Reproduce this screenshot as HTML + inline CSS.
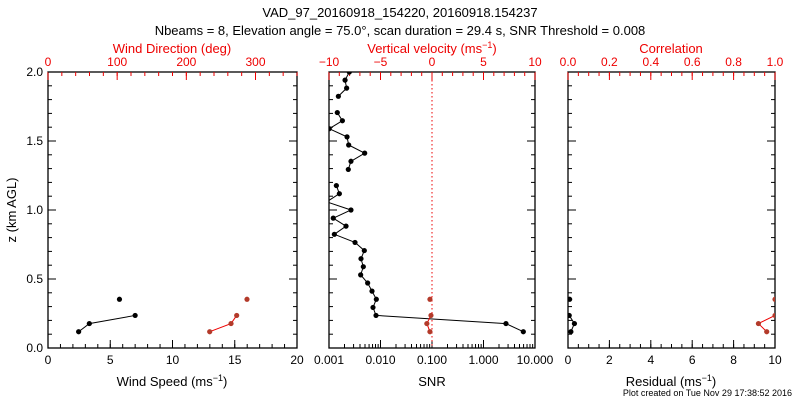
<!DOCTYPE html>
<html><head><meta charset="utf-8"><style>
body{margin:0;background:#fff;}
svg{display:block;font-family:"Liberation Sans",sans-serif;}
</style></head><body>
<svg id="chart" width="800" height="400" viewBox="0 0 800 400" xmlns="http://www.w3.org/2000/svg">
<defs>
<clipPath id="c1"><rect x="48" y="72" width="249" height="276"/></clipPath>
<clipPath id="c2"><rect x="329" y="72" width="206" height="276"/></clipPath>
<clipPath id="c3"><rect x="568" y="72" width="207" height="276"/></clipPath>
</defs>
<text x="400" y="17" font-size="13" text-anchor="middle">VAD_97_20160918_154220, 20160918.154237</text>
<text x="400" y="35" font-size="13" text-anchor="middle">Nbeams = 8, Elevation angle = 75.0°, scan duration = 29.4 s, SNR Threshold = 0.008</text>
<text x="792" y="396" font-size="9" text-anchor="end">Plot created on Tue Nov 29 17:38:52 2016</text>
<g id="g"></g>
</svg>
<script>
// heights (km) for each range gate
const heights=[0.118,0.177,0.236,0.294,0.353,0.412,0.471,0.530,0.589,0.647,0.706,0.765,0.824,0.883,0.941,1.000,1.059,1.118,1.177,1.236,1.294,1.353,1.412,1.471,1.530,1.589,1.647,1.706,1.765,1.824,1.883,1.941,2.000];
// SNR (middle panel, black)
const snr=[5.93,2.73,0.00818,0.00715,0.0083,0.00684,0.00563,0.00412,0.00464,0.00418,0.00485,0.0032,0.00127,0.00214,0.00121,0.00267,0.0009,0.00159,0.00139,null,0.00237,0.00267,0.00493,0.00241,0.00224,0.00101,0.00182,0.00145,null,0.00152,0.0022,0.00205,0.00248];
// vertical velocity (middle panel, red)
const wvel=[-0.2,-0.5,-0.1,null,-0.2];
// wind speed / direction (left panel)
const wspd=[2.46,3.32,7.0,null,5.74];
const wdir=[233.8,264.6,272.8,null,287.7];
// residual / correlation (right panel)
const resid=[0.14,0.31,0.06,null,0.08];
const corr=[0.96,0.92,1.0,null,1.0];

const NS="http://www.w3.org/2000/svg";
const g=document.getElementById('g');
const Y0=348,Y1=72;
const yS=z=>Y0-(z/2)*(Y0-Y1);
function el(t,a,p){const e=document.createElementNS(NS,t);for(const k in a)e.setAttribute(k,a[k]);(p||g).appendChild(e);return e;}
const P=[{x0:48,x1:297},{x0:329,x1:535},{x0:568,x1:775}];
const lin=(p,a,b)=>v=>p.x0+(v-a)/(b-a)*(p.x1-p.x0);
const xSpd=lin(P[0],0,20), xDir=lin(P[0],0,360);
const xSnrL=lin(P[1],-3,1), xSnr=v=>xSnrL(Math.log10(v)), xW=lin(P[1],-10,10);
const xRes=lin(P[2],0,10), xCor=lin(P[2],0,1);

function frame(p,i){
  const r=el('rect',{x:p.x0,y:Y1,width:p.x1-p.x0,height:Y0-Y1,fill:'none',stroke:'#000','stroke-width':1.3});
  
  
}
P.forEach((p,i)=>frame(p,i+1));
function bTicks(p,fx,majors,labels,minors,name){
  minors.forEach(v=>{const x=fx(v);el('line',{x1:x,x2:x,y1:Y0,y2:Y0-4,stroke:'#000'});});
  majors.forEach((v,i)=>{const x=fx(v);el('line',{x1:x,x2:x,y1:Y0,y2:Y0-8,stroke:'#000'});
    const t=el('text',{x:x,y:Y0+16,'font-size':12,'text-anchor':'middle'});t.textContent=labels[i];
    
    });
}
function tTicks(p,fx,majors,labels,minors,name){
  minors.forEach(v=>{const x=fx(v);el('line',{x1:x,x2:x,y1:Y1,y2:Y1+4,stroke:'#e00'});});
  majors.forEach((v,i)=>{const x=fx(v);el('line',{x1:x,x2:x,y1:Y1,y2:Y1+8,stroke:'#e00'});
    const t=el('text',{x:x,y:Y1-6,'font-size':12,'text-anchor':'middle',fill:'#e00'});t.textContent=labels[i];
    
    });
}
const rng=(a,b,s)=>{const r=[];for(let v=a;v<=b+1e-9;v+=s)r.push(+v.toFixed(6));return r;};
bTicks(P[0],xSpd,[0,5,10,15,20],['0','5','10','15','20'],rng(0,20,1),'wind-speed');
tTicks(P[0],xDir,[0,100,200,300],['0','100','200','300'],rng(0,360,20),'wind-direction');
const logMin=[];for(let d=-3;d<1;d++)for(let k=1;k<10;k++)logMin.push(k*Math.pow(10,d));
bTicks(P[1],xSnr,[0.001,0.01,0.1,1,10],['0.001','0.010','0.100','1.000','10.000'],logMin,'snr');
tTicks(P[1],xW,[-10,-5,0,5,10],['\u221210','\u22125','0','5','10'],rng(-10,10,1),'vertical-velocity');
bTicks(P[2],xRes,[0,2,4,6,8,10],['0','2','4','6','8','10'],rng(0,10,0.5),'residual');
tTicks(P[2],xCor,[0,0.2,0.4,0.6,0.8,1],['0.0','0.2','0.4','0.6','0.8','1.0'],rng(0,1,0.05),'correlation');
// y axis (left panel) and right sides
rng(0,2,0.1).forEach(v=>{const y=yS(v),maj=Math.abs(v*2-Math.round(v*2))<1e-6;
  P.forEach((p,i)=>{const L=maj?8:4;el('line',{x1:p.x0,x2:p.x0+L,y1:y,y2:y,stroke:'#000'});el('line',{x1:p.x1,x2:p.x1-L,y1:y,y2:y,stroke:'#000'});});
  if(maj){const t=el('text',{x:43,y:y+4,'font-size':12,'text-anchor':'end'});t.textContent=v.toFixed(1);
    
    }
});
// titles
function lab(x,y,txt,col,name,rot){const t=el('text',{x:x,y:y,'font-size':13,'text-anchor':'middle',fill:col});
  if(rot)t.setAttribute('transform','rotate(-90 '+x+' '+y+')');t.innerHTML=txt;
  
  }
lab(172,386,'Wind Speed (ms<tspan dy="-5" font-size="9">\u22121</tspan><tspan dy="5">)</tspan>','#000','x-axis-title-wind-speed');
lab(432,386,'SNR','#000','x-axis-title-snr');
lab(671,386,'Residual (ms<tspan dy="-5" font-size="9">\u22121</tspan><tspan dy="5">)</tspan>','#000','x-axis-title-residual');
lab(172,53,'Wind Direction (deg)','#e00','top-axis-title-wind-direction');
lab(432,53,'Vertical velocity (ms<tspan dy="-5" font-size="9">\u22121</tspan><tspan dy="5">)</tspan>','#e00','top-axis-title-vertical-velocity');
lab(671,53,'Correlation','#e00','top-axis-title-correlation');
lab(16,210,'z (km AGL)','#000','y-axis-title',true);
// zero line
const zx=xW(0);
const zl=el('line',{x1:zx,x2:zx,y1:Y1,y2:Y0,stroke:'#e00','stroke-dasharray':'1.5,2.5'});


// series
function series(vals,fx,clip,col,lcol,name){
  const grp=el('g',{'clip-path':'url(#'+clip+')'});
  
  
  let seg=[];const segs=[];
  vals.forEach((v,i)=>{if(v==null){if(seg.length)segs.push(seg);seg=[];}else seg.push([fx(v),yS(heights[i])]);});
  if(seg.length)segs.push(seg);
  segs.forEach(s=>{if(s.length>1)el('polyline',{points:s.map(q=>q.join(',')).join(' '),fill:'none',stroke:lcol,'stroke-width':1},grp);});
  vals.forEach((v,i)=>{if(v==null)return;const c=el('circle',{cx:fx(v),cy:yS(heights[i]),r:2.6,fill:col},grp);
    
    });
}
series(wspd,xSpd,'c1','#000','#000','wind-speed');
series(wdir,xDir,'c1','#b33a2a','#e00','wind-direction');
series(snr,xSnr,'c2','#000','#000','snr');
series(wvel,xW,'c2','#b33a2a','#e00','vertical-velocity');
series(resid,xRes,'c3','#000','#000','residual');
series(corr,xCor,'c3','#b33a2a','#e00','correlation');
</script>
</body></html>
